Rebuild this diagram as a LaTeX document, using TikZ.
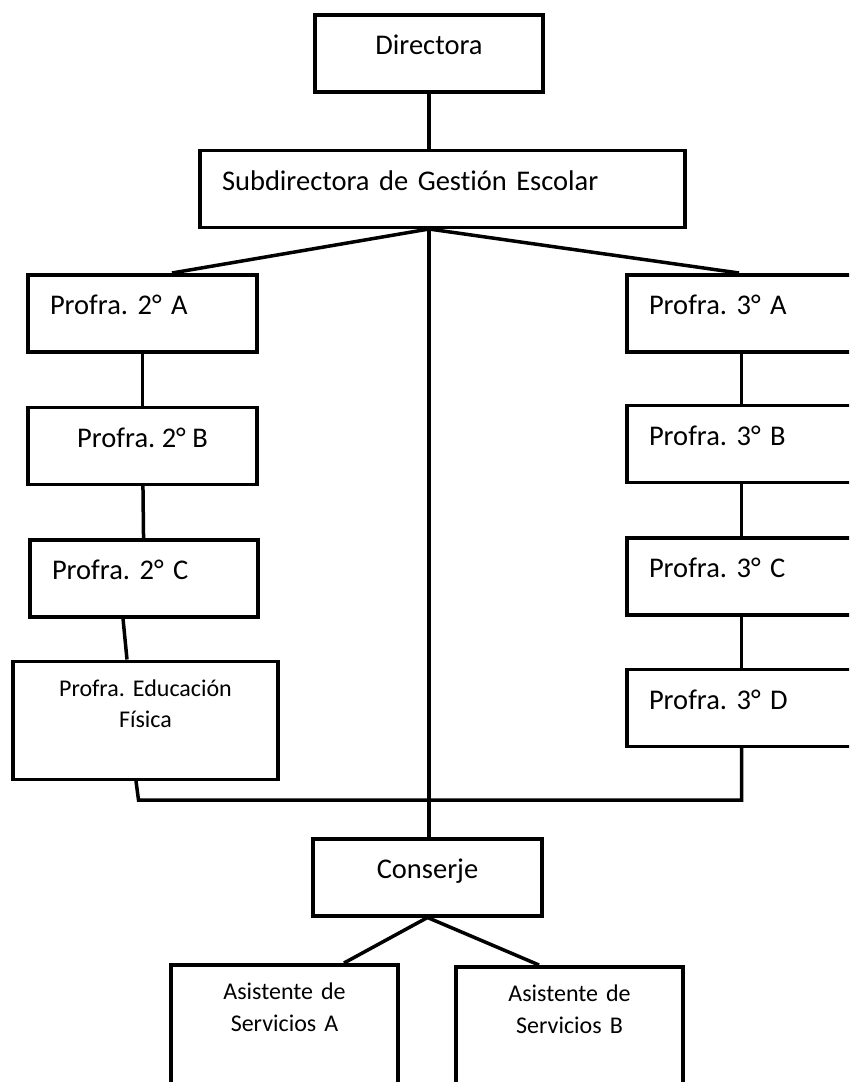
\documentclass[tikz,border=0pt]{standalone}
\usepackage{fontspec}
\setmainfont{Carlito}[Ligatures=NoCommon]
\frenchspacing
\usetikzlibrary{positioning}

\begin{document}
\begin{tikzpicture}[x=1pt, y=1pt, line width=3.5pt]
  \tikzset{
    puesto/.style={draw, rectangle, inner sep=0pt, text height=40pt, text depth=37pt, font=\fontsize{28.5}{34}\selectfont},
    puestoizq/.style={puesto, inner xsep=22pt, text width=#1, align=left},
    auxiliar/.style={draw, rectangle, inner sep=0pt, text width=#1, align=center, text height=35pt, font=\fontsize{24}{31.5}\selectfont}
  }
  \clip (0,0) rectangle (849,-1082);

  \node[puesto, minimum width=228pt, anchor=north] (dir) at (429,-13) {Directora};
  \node[puestoizq=441pt, below=55pt of dir, xshift=13.5pt] (sub) {Subdirectora de Gestión Escolar};

  \node[puestoizq=185pt, anchor=north] (a2) at (142.5,-273) {Profra. 2° A};
  \node[puesto, minimum width=229pt, below=52pt of a2] (b2) {Profra. 2° B};
  \node[puestoizq=184pt, below=52pt of b2, xshift=1.5pt] (c2) {Profra. 2° C};
  \node[auxiliar=265pt, text depth=83pt, below=41pt of c2, xshift=1.5pt] (ef) {Profra. Educación\\Física};

  \node[puestoizq=185pt, anchor=north] (a3) at (741.5,-273) {Profra. 3° A};
  \node[puestoizq=185pt, below=50pt of a3] (b3) {Profra. 3° B};
  \node[puestoizq=185pt, below=52pt of b3] (c3) {Profra. 3° C};
  \node[puestoizq=185pt, below=51pt of c3] (d3) {Profra. 3° D};

  \node[puesto, minimum width=229pt, anchor=north] (con) at (427.5,-837) {Conserje};
  \node[auxiliar=227pt, text depth=105pt, anchor=north] (asA) at (284.5,-963) {Asistente de\\Servicios A};
  \node[auxiliar=227pt, text depth=105pt, anchor=north] (asB) at (569.5,-965) {Asistente de\\Servicios B};

  \coordinate (rama) at (dir.south |- sub.south);
  \coordinate (esq) at ([xshift=-7pt, yshift=-19pt]ef.south);

  \draw (dir.south) -- (dir.south |- sub.north);
  \draw ([xshift=29.5pt]a2.north) -- (rama) -- ([xshift=-2.5pt]a3.north);
  \draw (rama) -- (rama |- con.north);
  \draw (a2) -- (b2);
  \draw (b2) -- (c2);
  \draw ([xshift=-21pt]c2.south) -- ([xshift=-18.5pt]ef.north);
  \draw (a3) -- (b3);
  \draw (b3) -- (c3);
  \draw (c3) -- (d3);
  \draw ([xshift=-9.5pt]ef.south) -- (esq) -- (esq -| d3.south) -- (d3.south);
  \draw ([xshift=59.5pt]asA.north) -- (con.south) -- ([xshift=-30.5pt]asB.north);
\end{tikzpicture}
\end{document}
